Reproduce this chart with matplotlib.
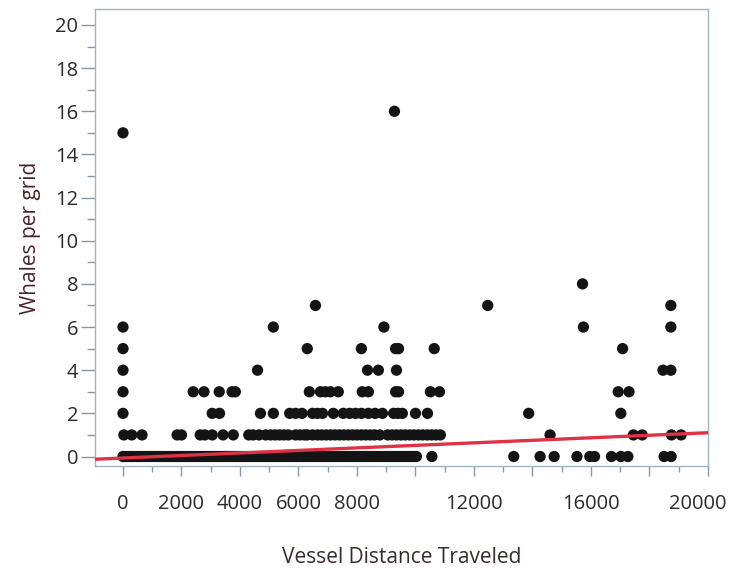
import numpy as np
import matplotlib
matplotlib.use("Agg")
import matplotlib.pyplot as plt
import matplotlib.transforms as mtransforms
from matplotlib.ticker import MultipleLocator

# distance values (x) for each whale count row
dist_0 = [0, 60, 150, 250, 350, 450, 550, 650, 750, 850, 950, 1050, 1150, 1250,
          1350, 1450, 1550, 1650, 1750, 1850, 1950, 2050, 2150, 2250, 2350, 2450,
          2550, 2650, 2750, 2850, 2950, 3050, 3150, 3250, 3350, 3450, 3550, 3650,
          3750, 3850, 3950, 4050, 4150, 4250, 4350, 4450, 4550, 4650, 4750, 4850,
          4950, 5050, 5150, 5250, 5350, 5450, 5550, 5650, 5750, 5850, 5950, 6050,
          6150, 6250, 6350, 6450, 6550, 6650, 6750, 6850, 6950, 7050, 7150, 7250,
          7350, 7450, 7550, 7650, 7750, 7850, 7950, 8050, 8150, 8250, 8350, 8450,
          8550, 8650, 8750, 8850, 8950, 9050, 9150, 9250, 9350, 9450, 9550, 9650,
          9750, 9850, 9950, 10030, 10560, 13360, 14260, 14740, 15520, 15960, 16120,
          16700, 17020, 17260, 18500, 18740]
dist_1 = [30, 300, 650, 1850, 2000, 2640, 2800, 3050, 3420, 3770, 4300, 4450,
          4650, 4880, 5050, 5200, 5350, 5500, 5650, 5900, 6050, 6200, 6300, 6480,
          6650, 6800, 6950, 7100, 7250, 7400, 7550, 7700, 7850, 8000, 8150, 8300,
          8450, 8600, 8780, 9050, 9200, 9350, 9500, 9650, 9800, 9950, 10100, 10250,
          10400, 10550, 10700, 10850, 14600, 17450, 17750, 18750, 19080]
dist_2 = [0, 3050, 3300, 4700, 5140, 5700, 5900, 6120, 6480, 6650, 6820, 7190,
          7530, 7750, 7950, 8150, 8390, 8620, 8870, 9250, 9400, 9550, 10000, 10410,
          13870, 17020]
dist_3 = [0, 2400, 2770, 3290, 3730, 3840, 6370, 6750, 6920, 7090, 7360, 8180,
          8390, 9320, 9420, 10510, 10820, 16930, 17300]
dist_4 = [0, 4600, 8360, 8730, 9350, 18460, 18730]
dist_5 = [0, 6300, 8150, 9320, 9420, 10640, 17080]
dist_6 = [0, 5140, 8920, 15740, 18730]
dist_7 = [6580, 12470, 18730]
dist_8 = [15710]
dist_15 = [0]
dist_16 = [9280]

rows = {0: dist_0, 1: dist_1, 2: dist_2, 3: dist_3, 4: dist_4, 5: dist_5,
        6: dist_6, 7: dist_7, 8: dist_8, 15: dist_15, 16: dist_16}

# linear fit shown in red
fit_intercept = -0.07
fit_slope = 5.86e-5

x_labels = ["0", "2000", "4000", "6000", "8000", "", "12000", "", "16000", "", "20000"]

plt.rcParams["font.family"] = ["Open Sans", "DejaVu Sans"]

fig = plt.figure(figsize=(7.30, 5.74), dpi=100)
ax = fig.add_axes([95 / 730, 1 - 466 / 574, 613 / 730, 457 / 574])

x_all = np.concatenate([np.array(v, dtype=float) for v in rows.values()])
y_all = np.concatenate([np.full(len(v), k, dtype=float) for k, v in rows.items()])
ax.scatter(x_all, y_all, s=66, color="#141414", edgecolors="none", zorder=2)

xlim = (-957, 20000)
xs = np.array(xlim, dtype=float)
ax.plot(xs, fit_intercept + fit_slope * xs, color="#e03245", lw=2.4, zorder=3)

ax.set_xlim(*xlim)
ax.set_ylim(-0.44, 20.74)

ax.set_xticks(np.arange(0, 20001, 2000))
ax.set_xticklabels(x_labels)
ax.xaxis.set_minor_locator(MultipleLocator(1000))
ax.set_yticks(np.arange(0, 21, 2))
ax.yaxis.set_minor_locator(MultipleLocator(1))

spine_col = "#9fb3c8"
for s in ax.spines.values():
    s.set_color(spine_col)
    s.set_linewidth(1.0)

ax.tick_params(axis="both", which="major", colors="#8a96a4", labelcolor="#2a2a2a",
               labelsize=14.5, length=7, width=1)
ax.tick_params(axis="both", which="minor", colors="#8a96a4", length=4, width=1)
ax.tick_params(axis="x", which="major", pad=13)
ax.tick_params(axis="y", which="major", pad=2, length=10)
ax.tick_params(axis="y", which="minor", length=6)

# last x label is pulled in so it stays inside the figure
last = ax.get_xticklabels()[-1]
last.set_transform(last.get_transform() +
                   mtransforms.ScaledTranslation(-10 / 100, 0, fig.dpi_scale_trans))

ax.set_xlabel("Vessel Distance Traveled", fontsize=15, color="#3a2a2a", labelpad=24)
ax.set_ylabel("Whales per grid", fontsize=15, color="#4a2424", labelpad=10)

fig.savefig("out.png", dpi=100)
